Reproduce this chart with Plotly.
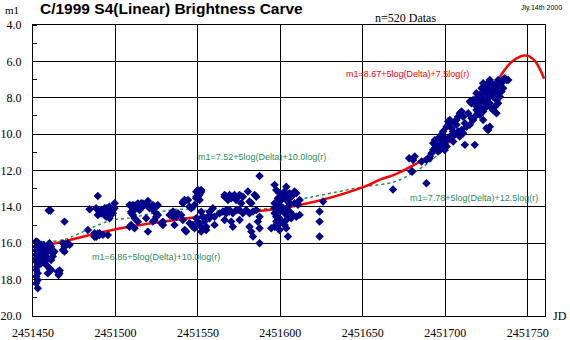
import plotly.graph_objects as go

JD0 = 2451450

obs_day = [
    1.9, 2.9, 3.9, 1.9, 2.9, 3.9, 1.9, 5.0, 2.9, 1.9, 2.9, 1.9, 2.9, 2.9, 5.0, 6.0, 7.0, 8.0, 9.0, 10.0,
    6.0, 7.0, 9.0, 10.0, 11.0, 9.0, 12.0, 13.0, 11.0, 10.0, 12.0, 11.0,
    1.9, 2.9, 3.9, 1.9, 2.9, 3.9, 1.9, 4.5, 4.5, 4.5, 5.5, 6.5, 7.5, 8.5, 8.5, 7.5, 6.5, 3.5, 2.4, 1.9,
    9.5, 10.6, 15.0, 16.0, 15.5, 16.2,
    18.1, 19.1, 18.1, 20.1, 19.1, 21.1, 22.2, 19.1,
    34.3, 39.3, 33.3, 37.3, 38.3, 40.4, 42.4, 40.4, 41.4, 42.4, 44.4, 46.4, 45.4, 48.4, 43.4, 44.4, 46.4, 49.5,
    38.3, 40.3, 39.3, 41.3, 43.4, 45.4, 46.4, 47.4, 48.4, 49.4, 37.3, 39.3, 40.3, 45.4,
    58.6, 59.6, 60.6, 61.6, 62.6, 63.6, 60.6, 59.6, 65.6, 67.7, 69.7, 71.7, 64.6, 69.7, 72.7, 73.7, 74.7, 75.8, 77.8,
    63.6, 64.6, 59.5, 65.6, 60.6, 61.6, 63.6, 66.6, 68.6, 69.7, 70.7, 72.7, 73.7, 74.7, 75.7, 58.5, 59.5, 61.6, 78.8, 78.8,
    82.8, 84.9, 86.9, 87.9, 89.9, 90.9, 92.0, 90.9, 91.9, 94.0, 99.0, 100.0, 101.0, 102.0, 95.0, 97.0, 99.0, 100.0, 101.0,
    104.1, 105.1, 107.1, 110.1, 116.2, 117.2, 118.2, 119.2,
    84.8, 85.8, 92.9, 97.0, 98.0, 99.0, 100.0, 101.0, 102.0, 100.0, 99.0, 101.0, 90.9, 91.9, 94.9, 96.0, 98.0,
    102.0, 103.0, 104.0, 102.0, 104.0, 107.1, 109.1,
    102.0, 105.0, 110.1, 107.1,
    116.2, 117.2, 118.2, 119.2, 120.2, 121.2, 122.2, 123.2, 124.3, 125.3, 126.3, 127.3,
    130.3, 131.3, 132.4, 134.4, 135.4, 137.4,
    113.1, 115.2, 117.2, 119.2, 121.2, 123.2, 125.3, 127.3, 129.3, 131.3, 133.4, 135.4,
    116.2, 120.2, 121.2, 125.3, 131.3, 132.4, 133.4, 137.4, 136.4, 137.4, 144.5, 146.5, 147.5, 137.4,
    146.5, 147.5, 149.5, 148.5, 150.6, 151.6, 152.6, 153.6, 154.6, 155.6, 156.6, 157.6, 158.6, 159.7,
    153.6, 155.6, 158.6, 160.7, 161.7, 146.5, 147.5, 149.5, 148.5, 150.6, 151.6, 152.6, 153.6, 154.6, 155.6,
    146.5, 147.5, 148.5, 149.5, 150.6, 151.6, 152.6, 153.6, 154.6, 156.6, 157.6, 159.7, 161.7,
    147.5, 148.5, 149.5, 153.6, 154.6, 147.5, 146.5,
    173.8, 173.8, 173.8, 175.9,
    218.3, 229.5, 238.6,
    230.1, 228.1, 230.5, 231.5, 235.6, 238.6, 240.6, 241.7, 242.7, 243.7, 244.7, 245.7, 246.7, 247.7, 248.7,
    249.7, 245.7, 246.7, 247.7, 244.7, 251.8, 252.8, 255.8, 256.8, 253.8, 254.8, 255.8, 257.8, 259.9, 260.9,
    258.8, 261.9, 267.9, 250.8, 249.7, 258.8, 259.9, 264.9, 265.9, 266.9, 267.9, 268.9, 270.0, 271.0, 272.0,
    273.0, 274.0, 275.0, 276.0, 277.0, 278.0, 279.0, 280.1, 281.1, 282.1, 283.1, 284.1, 285.1, 286.1, 287.2,
    288.2, 282.1, 281.1, 282.1, 280.1, 279.0, 281.1, 282.1, 283.1, 284.1, 285.1, 271.0, 272.0, 268.9, 270.0,
    267.9, 266.9, 271.0, 273.0, 275.0, 277.0, 276.0, 274.0, 275.0, 277.0, 278.0, 261.9, 262.9, 264.9, 265.9,
    263.9, 260.9, 273.0, 276.0, 277.0, 278.0, 279.0, 273.0, 272.0, 270.0, 268.9, 275.0, 280.1, 240.6, 242.7,
    245.7, 247.7, 248.7, 250.8, 252.8, 256.8, 257.8, 243.7, 246.7, 248.7, 250.8, 252.8, 254.8,
]
obs_mag = [
    16.19, 16.37, 16.46, 16.64, 16.83, 16.92, 17.01, 17.10, 17.19, 17.47, 17.65, 17.83, 18.02, 18.48, 16.09, 16.28, 16.55, 16.73, 16.46, 16.37,
    16.92, 17.10, 17.28, 17.38, 17.47, 17.65, 16.55, 16.46, 16.19, 16.00, 16.73, 16.92,
    15.90, 15.95, 16.05, 16.40, 16.60, 16.70, 16.85, 16.30, 16.60, 16.80, 16.50, 16.10, 16.35, 16.20, 16.90, 16.80, 16.60, 17.00, 17.30, 18.20,
    14.20, 14.20, 17.56, 17.65, 17.75, 17.50,
    16.00, 16.19, 16.37, 16.09, 16.46, 16.00, 16.09, 14.81,
    14.13, 13.40, 15.27, 15.45, 15.64, 15.45, 15.54, 14.35, 14.17, 14.26, 14.08, 14.17, 14.35, 14.35, 14.44, 14.54, 14.63, 13.80,
    14.08, 14.27, 14.45, 14.36, 14.08, 14.08, 13.99, 14.27, 14.17, 14.08, 15.64, 15.46, 15.55, 15.55,
    13.89, 13.99, 13.89, 14.08, 13.89, 13.99, 14.26, 14.35, 13.80, 13.89, 13.89, 13.99, 14.17, 15.36, 14.81, 14.72, 14.54, 14.44, 14.90,
    13.81, 13.99, 14.27, 14.08, 14.45, 14.63, 14.82, 13.81, 14.63, 13.68, 14.08, 13.90, 14.27, 13.99, 13.90, 15.09, 15.00, 15.18, 14.82, 15.00,
    14.44, 14.26, 14.54, 14.35, 14.44, 14.72, 15.27, 13.80, 13.71, 13.62, 13.44, 13.16, 13.34, 13.07, 14.90, 15.00, 14.63, 14.81, 14.90,
    14.81, 15.09, 14.63, 14.54, 13.44, 14.35, 14.26, 14.17,
    14.54, 15.00, 15.36, 15.09, 15.18, 13.17, 13.07, 13.26, 13.17, 13.44, 13.53, 13.62, 13.72, 13.62, 13.99, 14.08, 13.90,
    14.27, 14.54, 14.63, 15.09, 15.18, 14.27, 14.08,
    15.36, 15.27, 14.99, 14.44,
    13.34, 13.44, 13.62, 13.34, 13.53, 13.44, 13.34, 13.62, 13.44, 13.34, 13.80, 13.44,
    13.16, 13.71, 13.80, 13.34, 13.44, 12.30,
    14.35, 14.26, 14.17, 14.26, 14.35, 14.17, 14.17, 14.35, 14.17, 14.35, 14.26, 14.17,
    14.72, 14.81, 15.09, 14.72, 15.09, 15.36, 15.63, 14.54, 14.81, 15.18, 15.18, 15.09, 14.99, 16.00,
    12.79, 13.07, 13.25, 13.53, 13.62, 13.44, 13.16, 12.89, 13.34, 13.25, 13.44, 13.34, 13.16, 13.25,
    13.62, 13.80, 13.80, 13.89, 13.62, 13.80, 13.99, 13.89, 14.26, 14.17, 14.08, 14.35, 14.17, 13.99, 14.26,
    14.35, 14.54, 14.72, 14.63, 14.81, 14.90, 14.99, 14.72, 14.54, 14.63, 14.44, 14.54, 14.44,
    15.09, 15.18, 15.27, 15.18, 15.63, 14.81, 14.08,
    14.26, 14.81, 15.63, 13.71,
    13.05, 12.06, 12.70,
    12.06, 11.33, 11.42, 11.23, 11.51, 11.42, 11.33, 11.05, 10.87, 10.78, 10.59, 10.68, 10.50, 10.32, 10.41,
    10.23, 10.96, 10.87, 10.78, 10.41, 9.31, 9.40, 9.31, 9.49, 9.68, 9.86, 10.04, 9.86, 9.77, 9.95,
    10.13, 10.59, 10.59, 10.68, 10.87, 8.85, 8.76, 8.21, 8.30, 8.12, 8.39, 7.75, 7.94, 7.84, 8.12,
    8.03, 7.66, 7.29, 7.39, 7.57, 7.75, 7.94, 7.66, 7.48, 7.29, 7.11, 7.20, 7.02, 6.93, 7.02,
    7.02, 7.02, 8.12, 8.30, 8.49, 8.67, 8.85, 7.75, 7.94, 7.66, 7.48, 8.49, 8.67, 8.67, 8.85,
    9.04, 9.22, 8.94, 9.22, 9.68, 9.59, 9.77, 8.30, 8.49, 8.30, 8.58, 9.40, 9.59, 9.49, 9.13,
    8.85, 9.04, 8.76, 8.03, 7.02, 7.20, 7.39, 7.20, 7.48, 8.30, 8.21, 7.75, 7.29, 11.23, 10.50,
    10.32, 10.04, 9.86, 9.59, 9.22, 9.22, 9.04, 10.32, 10.13, 10.59, 10.32, 10.13, 10.41,
]

# model curve m1 = 8.67+5log(Delta)+7.5log(r)  (red)
red_day = [5, 18, 48, 79, 119, 134, 150, 175, 201, 210, 220, 230, 240, 250, 259, 269, 277, 280, 285, 290, 295, 298, 301, 305, 310]
red_mag = [16.19, 15.91, 15.27, 14.81, 14.35, 14.26, 14.08, 13.62, 12.89, 12.52, 12.20, 11.75, 11.20, 10.60, 9.90, 9.04, 7.94, 7.40, 6.60, 6.05, 5.75, 5.68, 5.72, 6.05, 6.95]

# piecewise models (green dotted)
green_day = [5, 18, 37, 48, 57, 78, 88, 110, 125, 134, 150, 161, 175, 201, 219, 230, 241, 251, 261]
green_mag = [15.91, 15.82, 15.09, 14.72, 14.63, 14.26, 14.13, 14.22, 14.26, 14.17, 13.99, 13.62, 13.35, 12.89, 12.63, 12.15, 11.50, 10.60, 9.80]

x_ticks = [2451450, 2451500, 2451550, 2451600, 2451650, 2451700, 2451750]
y_ticks = [4, 6, 8, 10, 12, 14, 16, 18, 20]

RED = "#ff0000"
GREEN = "#2e8b57"
NAVY = "#00008b"
SERIF = "Liberation Serif, DejaVu Serif, serif"
SANS = "Liberation Sans, Arial, sans-serif"

fig = go.Figure()
fig.add_trace(go.Scatter(x=[JD0 + d for d in green_day], y=green_mag, mode="lines",
                         line=dict(color=GREEN, width=1.5, dash="dot", shape="spline"),
                         hoverinfo="skip", showlegend=False))
fig.add_trace(go.Scatter(x=[JD0 + d for d in red_day], y=red_mag, mode="lines",
                         line=dict(color=RED, width=2.5, shape="spline"),
                         hoverinfo="skip", showlegend=False))
fig.add_trace(go.Scatter(x=[JD0 + d for d in obs_day], y=obs_mag, mode="markers",
                         marker=dict(symbol="diamond", size=6.5, color=NAVY, line=dict(width=0)),
                         showlegend=False))

fig.update_layout(
    template="none",
    width=570, height=340,
    margin=dict(l=33, r=25, t=25, b=24, autoexpand=False),
    paper_bgcolor="white", plot_bgcolor="white",
    font=dict(family=SERIF, size=12, color="black"),
    xaxis=dict(range=[2451450, 2451760.5], tickvals=x_ticks, ticktext=[str(v) for v in x_ticks],
               showgrid=True, gridcolor="black", gridwidth=1, zeroline=False, automargin=False,
               showline=True, linecolor="black", linewidth=1, mirror=True,
               ticks="", ticklabelstandoff=6, tickfont=dict(family=SERIF, size=12, color="black")),
    yaxis=dict(range=[20, 4], tickvals=y_ticks, ticktext=[f"{v:.1f}" for v in y_ticks],
               showgrid=True, gridcolor="black", gridwidth=1, zeroline=False, automargin=False,
               showline=True, linecolor="black", linewidth=1, mirror=True,
               ticks="", ticklabelstandoff=8, tickfont=dict(family=SERIF, size=12, color="black"),
               minor=dict(dtick=1, ticks="inside", ticklen=4, tickcolor="black", showgrid=False)),
)

def ann(text, x, y, color="black", size=9, family=SANS, xanchor="center", yanchor="middle"):
    fig.add_annotation(text=text, x=x, y=y, xref="paper", yref="paper", showarrow=False,
                       xanchor=xanchor, yanchor=yanchor,
                       font=dict(family=family, size=size, color=color))

ann("m1", -0.058, 1.052, size=11, family=SERIF, xanchor="left")
ann("<b>C/1999 S4(Linear) Brightness Carve</b>", 0.0098, 1.055, size=15.5, family=SANS, xanchor="left")
ann("Jly.14th 2000", 1.037, 1.058, size=7, family=SANS, xanchor="right")
ann("n=520 Datas", 0.7266, 1.024, size=12, family=SERIF)
ann("JD", 1.0293, 0.0, size=12, family=SERIF)
ann("m1=8.67+5log(Delta)+7.5log(r)", 0.7324, 0.8316, color=RED, size=9)
ann("m1=7.52+5log(Delta)+10.0log(r)", 0.4482, 0.5464, color=GREEN, size=9)
ann("m1=7.78+5log(Delta)+12.5log(r)", 0.8613, 0.4055, color=GREEN, size=9)
ann("m1=6.86+5log(Delta)+10.0log(r)", 0.2393, 0.2027, color=GREEN, size=9)

fig.write_html("out.html")
